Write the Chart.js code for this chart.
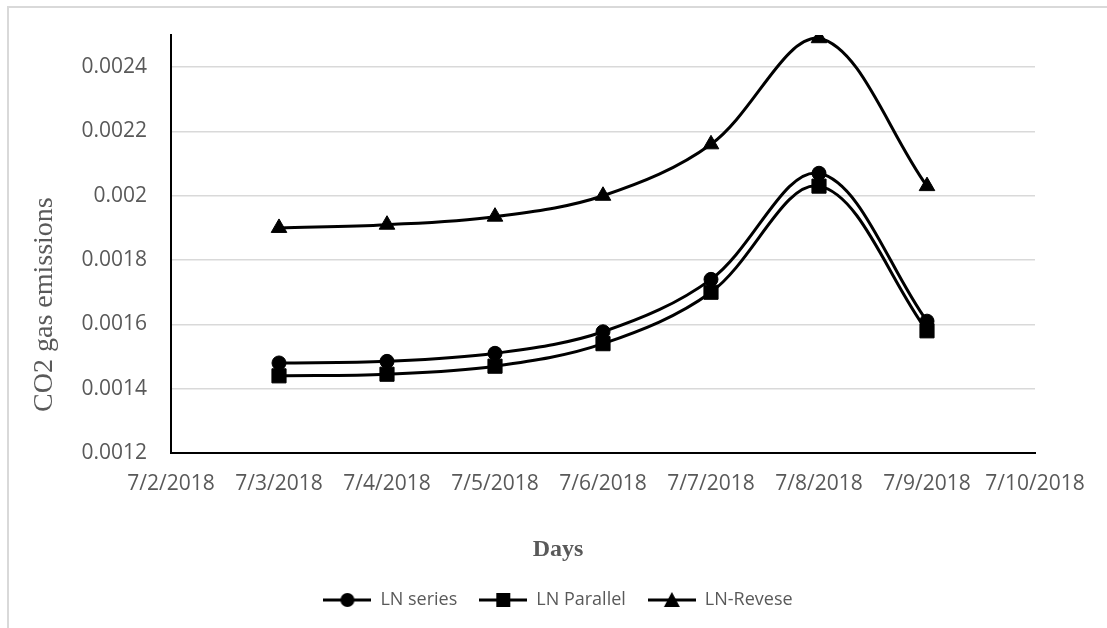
<!DOCTYPE html>
<html>
<head>
<meta charset="utf-8">
<script src="https://cdn.jsdelivr.net/npm/chart.js@4.4.1/dist/chart.umd.min.js"></script>
<style>
  html, body { margin: 0; padding: 0; background: #fff; }
  #frame {
    position: absolute; left: 7px; top: 6px;
    width: 1100px; height: 622px;
    border-top: 2px solid #d9d9d9; border-left: 2px solid #d9d9d9;
  }
  #wrap { position: absolute; left: 0; top: 0; width: 1098px; height: 620px; }
</style>
</head>
<body>
<div id="frame"><div id="wrap"><canvas id="co2Chart"></canvas></div></div>
<script>
// days on the x axis (first and last are empty slots)
const days = ['7/2/2018', '7/3/2018', '7/4/2018', '7/5/2018', '7/6/2018',
              '7/7/2018', '7/8/2018', '7/9/2018', '7/10/2018'];

const lnSeries   = [null, 0.00148, 0.001485, 0.00151,  0.001577, 0.00174, 0.00207, 0.00161, null];
const lnParallel = [null, 0.00144, 0.001445, 0.00147,  0.00154,  0.0017,  0.00203, 0.00158, null];
const lnReverse  = [null, 0.0019,  0.00191,  0.001935, 0.002,    0.00216, 0.00249, 0.00203, null];

const seriesNames = ['LN series', 'LN Parallel', 'LN-Revese'];
const markerStyles = ['circle', 'rect', 'triangle'];
const markerSizes = [7, 10, 9];

const tickFont = { family: 'Open Sans', size: 21 };
const grey = '#595959';

// legend swatch: short line with the marker in the middle
function legendSwatch(style) {
  const c = document.createElement('canvas');
  c.width = 48; c.height = 18;
  const g = c.getContext('2d');
  g.strokeStyle = '#000'; g.lineWidth = 3;
  g.beginPath(); g.moveTo(0, 9); g.lineTo(48, 9); g.stroke();
  g.fillStyle = '#000';
  g.beginPath();
  if (style === 'circle') {
    g.arc(24, 9, 7, 0, Math.PI * 2);
  } else if (style === 'rect') {
    g.rect(17, 2, 14, 14);
  } else {
    g.moveTo(24, 1); g.lineTo(32, 16); g.lineTo(16, 16); g.closePath();
  }
  g.fill();
  return c;
}
const swatches = markerStyles.map(legendSwatch);

function makeDataset(i, values) {
  return {
    label: seriesNames[i],
    data: values,
    borderColor: '#000',
    backgroundColor: '#000',
    borderWidth: 3,
    pointStyle: markerStyles[i],
    pointRadius: markerSizes[i],
    pointBorderWidth: 1,
    pointBackgroundColor: '#000',
    tension: 0.35
  };
}

// vertical axis title, sitting a bit below the middle of the plot like the Excel original
const yTitlePlugin = {
  id: 'yTitle',
  afterDraw(chart, args, opts) {
    const { ctx, chartArea } = chart;
    const cy = chartArea.top + (chartArea.bottom - chartArea.top) * opts.position;
    ctx.save();
    ctx.translate(opts.x, cy);
    ctx.rotate(-Math.PI / 2);
    ctx.font = opts.font;
    ctx.fillStyle = opts.color;
    ctx.textAlign = 'center';
    ctx.textBaseline = 'middle';
    ctx.fillText(opts.text, 0, 0);
    ctx.restore();
  }
};

new Chart(document.getElementById('co2Chart'), {
  type: 'line',
  data: {
    labels: days,
    datasets: [
      makeDataset(0, lnSeries),
      makeDataset(1, lnParallel),
      makeDataset(2, lnReverse)
    ]
  },
  options: {
    responsive: true,
    maintainAspectRatio: false,
    animation: false,
    layout: { padding: { left: 72, top: 27, right: 72, bottom: 9 } },
    scales: {
      x: {
        offset: false,
        grid: { display: false, drawTicks: false },
        border: { display: true, color: '#000', width: 2 },
        ticks: { color: grey, font: tickFont, padding: 18, maxRotation: 0, autoSkip: false }
      },
      y: {
        min: 0.0012,
        max: 0.0025,
        grid: { color: '#d9d9d9', lineWidth: 1.5, drawTicks: false },
        border: { display: true, color: '#000', width: 2 },
        ticks: {
          stepSize: 0.0002,
          includeBounds: false,
          color: grey,
          font: tickFont,
          padding: 24,
          callback: v => String(Number(v.toFixed(4)))
        },
        // top label (0.0024) sits well below the axis top, so no overhang room is needed;
        // width = widest label + tick padding
        afterFit: scale => {
          scale.paddingTop = 0;
          scale.width = 90;
        }
      }
    },
    plugins: {
      yTitle: {
        text: 'CO2 gas emissions',
        font: '28px "Liberation Serif"',
        color: grey,
        x: 36,
        position: 0.645
      },
      title: {
        display: true,
        position: 'bottom',
        weight: 500,
        text: 'Days',
        color: grey,
        font: { family: 'Liberation Serif', size: 24, weight: 'bold' },
        padding: { top: 21, bottom: 5 }
      },
      legend: {
        position: 'bottom',
        labels: {
          usePointStyle: true,
          pointStyleWidth: 48,
          color: grey,
          font: { family: 'Open Sans', size: 18 },
          padding: 22,
          generateLabels: chart => chart.data.datasets.map((ds, i) => ({
            text: ds.label,
            pointStyle: swatches[i],
            fontColor: grey,
            lineWidth: 0,
            strokeStyle: 'transparent',
            fillStyle: 'transparent',
            datasetIndex: i
          }))
        }
      },
      tooltip: { enabled: false }
    }
  },
  plugins: [yTitlePlugin]
});
</script>
</body>
</html>
